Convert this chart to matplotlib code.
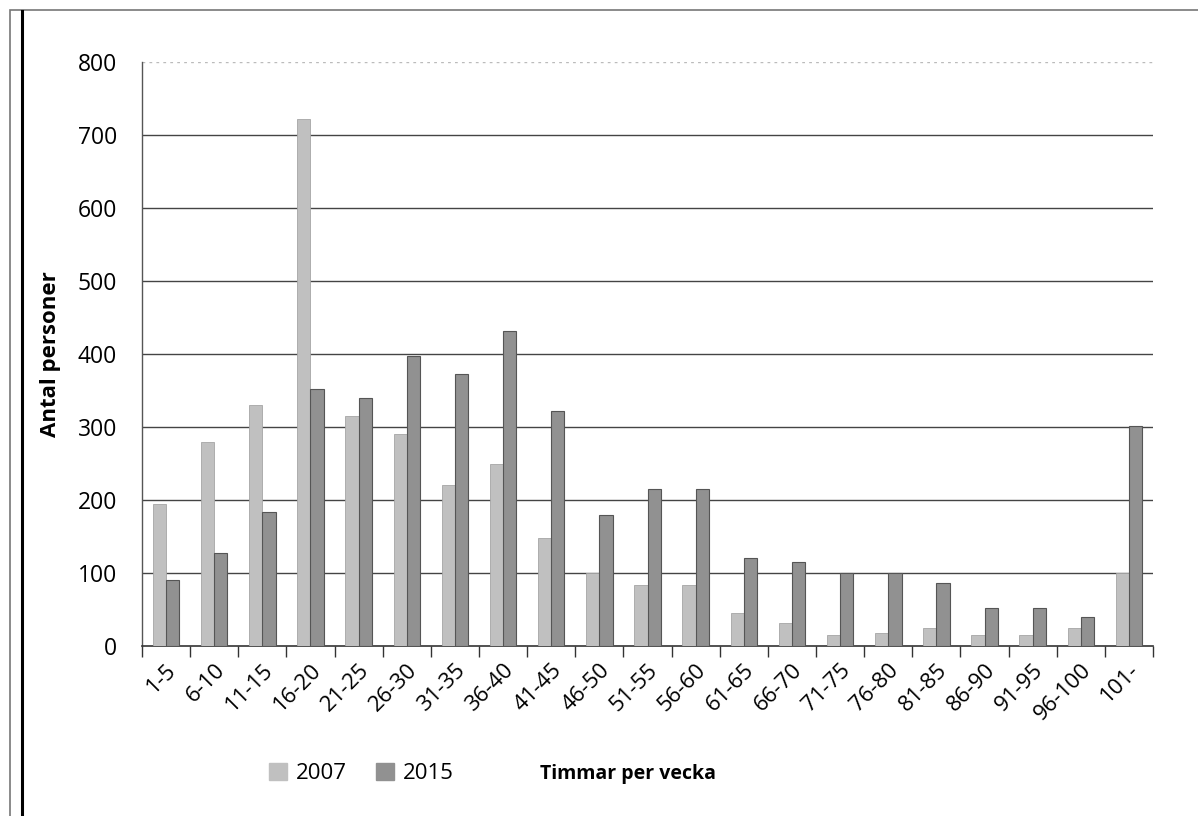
import numpy as np
import matplotlib.pyplot as plt
from matplotlib.patches import Rectangle, Patch

# Data
categories = ["1-5", "6-10", "11-15", "16-20", "21-25", "26-30", "31-35", "36-40",
              "41-45", "46-50", "51-55", "56-60", "61-65", "66-70", "71-75", "76-80",
              "81-85", "86-90", "91-95", "96-100", "101-"]
values_2007 = [195, 280, 330, 722, 315, 290, 220, 250, 148, 100, 83, 83,
               45, 32, 15, 18, 25, 15, 15, 25, 100]
values_2015 = [90, 128, 183, 352, 340, 397, 372, 432, 322, 180, 215, 215,
               120, 115, 100, 100, 87, 52, 52, 40, 302]
y_ticks = [0, 100, 200, 300, 400, 500, 600, 700, 800]

font = ["Open Sans", "DejaVu Sans"]
plt.rcParams['font.family'] = font

fig = plt.figure(figsize=(11.98, 8.16), dpi=100)
ax = fig.add_axes([0.1185, 0.2083, 0.844, 0.7157])

x = np.arange(len(categories))
w = 0.275
ax.bar(x - w / 2, values_2007, w, color="#c0c0c0", edgecolor="#a5a5a5", linewidth=0.6,
       label="2007", zorder=3)
ax.bar(x + w / 2, values_2015, w, color="#919191", edgecolor="#555555", linewidth=0.8,
       label="2015", zorder=3)

ax.set_xlim(-0.5, len(categories) - 0.5)
ax.set_ylim(0, 800)
ax.set_yticks(y_ticks)
ax.set_yticklabels([str(v) for v in y_ticks], fontsize=16.5)
ax.tick_params(axis="y", length=0, pad=18)

# gridlines (top one faint/dotted like the scan)
for v in y_ticks[1:-1]:
    ax.axhline(v, color="#444444", linewidth=1.0, zorder=1)
ax.axhline(800, color="#bbbbbb", linewidth=1.0, linestyle=(0, (2, 3)), zorder=1)

ax.set_xticks(x)
ax.set_xticklabels(categories, rotation=45, ha="right", rotation_mode="anchor", fontsize=16)
ax.tick_params(axis="x", length=0, pad=10)
ax.set_xticks(np.arange(-0.5, len(categories), 1.0), minor=True)
ax.tick_params(axis="x", which="minor", length=8, width=1.0, color="#333333", direction="out")

for s in ["top", "right"]:
    ax.spines[s].set_visible(False)
ax.spines["left"].set_color("#555555")
ax.spines["bottom"].set_color("#333333")
ax.spines["left"].set_linewidth(1.0)
ax.spines["bottom"].set_linewidth(1.2)

ax.set_ylabel("Antal personer", fontsize=16, fontweight="bold", labelpad=12)

handles = [Patch(facecolor="#c0c0c0", edgecolor="#c0c0c0"),
           Patch(facecolor="#919191", edgecolor="#919191")]
fig.legend(handles, ["2007", "2015"], loc="center left", bbox_to_anchor=(0.208, 0.052),
           ncol=2, frameon=False, fontsize=16, handlelength=0.8, handleheight=0.8,
           handletextpad=0.4, columnspacing=1.3)
fig.text(0.451, 0.052, "Timmar per vecka", fontsize=14, fontweight="bold", va="center")

# scanned outer frame
fig.patches.append(Rectangle((0.0085, -0.01), 1.2, 0.998, transform=fig.transFigure,
                             fill=False, edgecolor="#777777", linewidth=1.2))
fig.add_artist(plt.Line2D([0.0185, 0.0185], [0, 0.986], transform=fig.transFigure,
                          color="black", linewidth=2.2))

fig.savefig("out.png", dpi=100)
